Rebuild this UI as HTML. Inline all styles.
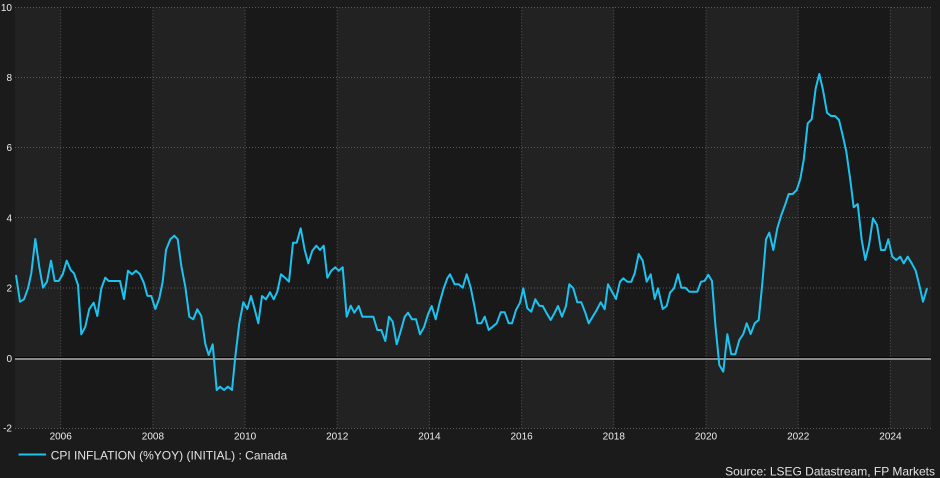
<!DOCTYPE html>
<html>
<head>
<meta charset="utf-8">
<style>
html,body{margin:0;padding:0;background:#1b1b1b;}
svg{display:block;}
text{font-family:"Liberation Sans",Arial,sans-serif;}
</style>
</head>
<body>
<svg width="940" height="478" viewBox="0 0 940 478" xmlns="http://www.w3.org/2000/svg">
<rect x="0" y="0" width="940" height="478" fill="#1b1b1b"/>
<!-- bands -->
<rect x="15" y="7.3" width="45.7" height="421.2" fill="#222222"/>
<rect x="60.7" y="7.3" width="92.2" height="421.2" fill="#191919"/>
<rect x="152.9" y="7.3" width="92.2" height="421.2" fill="#222222"/>
<rect x="245.1" y="7.3" width="92.1" height="421.2" fill="#191919"/>
<rect x="337.2" y="7.3" width="92.2" height="421.2" fill="#222222"/>
<rect x="429.4" y="7.3" width="92.2" height="421.2" fill="#191919"/>
<rect x="521.6" y="7.3" width="92.2" height="421.2" fill="#222222"/>
<rect x="613.8" y="7.3" width="92.2" height="421.2" fill="#191919"/>
<rect x="706" y="7.3" width="92.2" height="421.2" fill="#222222"/>
<rect x="798.2" y="7.3" width="92.2" height="421.2" fill="#191919"/>
<rect x="890.4" y="7.3" width="40.6" height="421.2" fill="#222222"/>
<!-- grid -->
<g stroke="#585858" stroke-width="1" stroke-dasharray="1,2" fill="none">
<line x1="15" y1="7.5" x2="931" y2="7.5"/>
<line x1="15" y1="77.5" x2="931" y2="77.5"/>
<line x1="15" y1="147.5" x2="931" y2="147.5"/>
<line x1="15" y1="217.5" x2="931" y2="217.5"/>
<line x1="15" y1="288" x2="931" y2="288"/>
<line x1="15" y1="428.5" x2="931" y2="428.5"/>
<line x1="60.7" y1="7.3" x2="60.7" y2="428.5"/>
<line x1="152.9" y1="7.3" x2="152.9" y2="428.5"/>
<line x1="245.1" y1="7.3" x2="245.1" y2="428.5"/>
<line x1="337.2" y1="7.3" x2="337.2" y2="428.5"/>
<line x1="429.4" y1="7.3" x2="429.4" y2="428.5"/>
<line x1="521.6" y1="7.3" x2="521.6" y2="428.5"/>
<line x1="613.8" y1="7.3" x2="613.8" y2="428.5"/>
<line x1="706" y1="7.3" x2="706" y2="428.5"/>
<line x1="798.2" y1="7.3" x2="798.2" y2="428.5"/>
<line x1="890.4" y1="7.3" x2="890.4" y2="428.5"/>
</g>
<!-- zero line -->
<rect x="15" y="357" width="916" height="1" fill="#050505"/>
<rect x="15" y="358" width="916" height="2" fill="#8a8a8a"/>
<!-- series -->
<polyline fill="none" stroke="#1cc3f0" stroke-width="2" stroke-linejoin="round" points="16,275 20,301.7 24,299.3 28,288.3 31.3,273.3 35.3,239 39.3,267 43,287.7 47,281.7 51,260.7 54.7,281 58.7,281 62.7,274.3 66.7,260.7 70.7,270 74,273.3 78,285 81.3,334.3 85.3,326.7 89.3,309 93.7,302.7 97.3,316 101.3,288.3 105.3,277.7 108.7,281 112.7,281 116.7,281 120,281 124,299 128,270.7 132,274.3 136,270.7 140,274.3 144,283.3 147.3,295.7 151.3,296 155.3,309 159.3,298.3 162.7,281.7 166,250 170.3,239.3 174.3,235.7 177.7,239.3 181.3,266 185.3,286.7 189.3,316.7 193.3,319.3 197.3,309.3 201.3,316 205.3,344 208.7,355 212.7,344.3 216.7,390 220,386.7 224,390 228,386.7 232,390 235.3,356.7 239.3,323.3 243.3,302.3 247.3,309 251,296 254.7,309.3 258.3,323.3 262,296 266,299.3 270,292.3 273.7,299.3 277.3,291.7 281,274.3 285,277.7 289,281.7 293,242.7 296.7,242.7 300.7,228.3 304.7,250 308.3,263.3 312.3,250.7 316.3,245.7 320,250 323.7,245.7 327.3,277.7 331.3,270.7 335.3,267.3 338.7,270.7 342.7,267.3 346.7,316.7 350.7,305.7 354.3,312.7 358.7,306 362.3,316.7 366,316.7 369.7,316.7 373.3,316.7 377.3,330 381.3,330 385.3,341 389,316.7 392.7,321.7 396.7,344.3 400.7,331 404.7,316.7 408,312.7 412,319.3 416,319.3 420,334.3 424,327.3 428,314.3 431.7,306 435.7,319.3 439.7,302.3 443.7,288.3 447.3,278.3 450,274.3 454.7,284.3 458.7,284.3 462.7,287.7 466.7,274.3 470.7,287.7 474.5,306.5 477.5,323.3 481.3,323.3 484.7,316.7 488.7,330 492.7,326.7 496.7,323.3 500.7,312.3 504.7,312.3 508.7,323.3 512,323.3 516,310 520,302.7 523.3,288.3 527.3,308.3 531.3,311.7 535.3,299.3 539.3,305.7 542.7,306 546.7,313.3 550.7,320 554.7,312.7 558,306 562,316.7 566,306 569.3,284.3 573.3,288.3 577.3,302.3 581.3,302.3 585.3,312.7 588.7,323.3 592.7,316.7 596.7,310 600.7,302.3 604.7,309.3 608,284.3 612,291.7 616,299 620,281.7 623.3,278.3 627.3,281.7 631.3,281.7 634.7,273.3 638.7,254 642.7,260.7 646.7,281.7 650.7,274.3 654.7,299 658,288.3 662.7,309 666.7,306 670,292.7 674,288.3 678,274.3 681.3,287.7 685.3,287.7 689.3,291.7 693.3,291.7 697.3,291.7 701,281.7 704.5,281 708.3,274.8 712,281 715.3,324 719.3,365 723.3,371.7 727.3,334.3 731.3,354.3 735.3,354.3 739.3,340 743.3,334 746.7,323.3 750.7,334 754.7,323.3 758.7,320 762.5,281.5 766,239.3 769.3,232.7 773.3,250 777.3,228.3 781.3,215 785.3,204.3 788.7,194 792.7,194 796.7,190 800.3,179 803.7,160 807.7,123.3 811.7,119.3 815.7,88.3 819.3,74 823,90 827,112.7 831,116 835,116 839,120 843,136.7 846.3,151.7 850.3,180 853.7,207.3 857.7,204 861.7,240 865.3,260 869,245 873,218.3 877,225 881,250 885,250 888.3,239.3 892.3,256.7 896.3,260 900.3,256.7 903.7,263.3 907.7,256.7 911.7,263.3 915.7,270.7 919.7,286.7 923,301.7 927,288.3"/>
<!-- y labels -->
<g fill="#ececec" font-size="10" text-anchor="end">
<text x="12" y="10.9">10</text>
<text x="12" y="81">8</text>
<text x="12" y="151.1">6</text>
<text x="12" y="221.3">4</text>
<text x="12" y="291.5">2</text>
<text x="12" y="361.8">0</text>
<text x="12" y="431.5">-2</text>
</g>
<!-- x labels -->
<g fill="#ececec" font-size="10" text-anchor="middle">
<text x="60.7" y="439.5">2006</text>
<text x="152.9" y="439.5">2008</text>
<text x="245.1" y="439.5">2010</text>
<text x="337.2" y="439.5">2012</text>
<text x="429.4" y="439.5">2014</text>
<text x="521.6" y="439.5">2016</text>
<text x="613.8" y="439.5">2018</text>
<text x="706" y="439.5">2020</text>
<text x="798.2" y="439.5">2022</text>
<text x="890.4" y="439.5">2024</text>
</g>
<!-- legend -->
<line x1="18.5" y1="454.5" x2="46" y2="454.5" stroke="#1cc3f0" stroke-width="2"/>
<text x="50.7" y="459.3" font-size="12" fill="#e2e2e2">CPI INFLATION (%YOY) (INITIAL) : Canada</text>
<!-- source -->
<text x="935" y="475.3" font-size="12" fill="#e2e2e2" text-anchor="end">Source: LSEG Datastream, FP Markets</text>
</svg>
</body>
</html>
